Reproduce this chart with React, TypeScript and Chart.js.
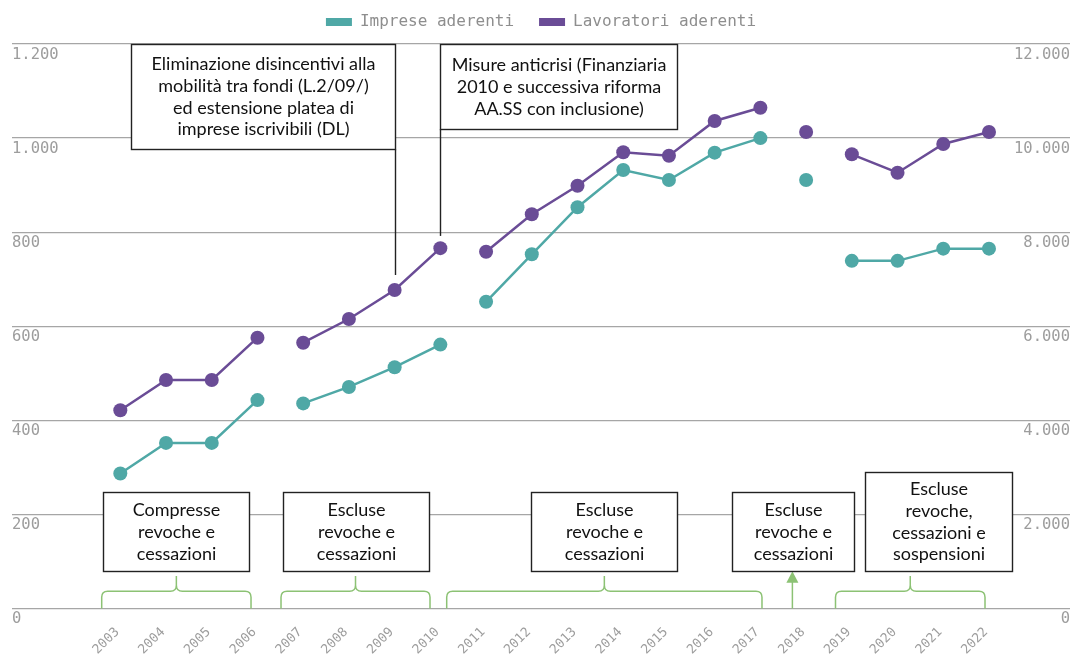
import { useEffect, useRef } from 'react';
import { Chart, registerables } from 'chart.js';

Chart.register(...registerables);

// ---- data ----
const years = [2003, 2004, 2005, 2006, 2007, 2008, 2009, 2010, 2011, 2012, 2013, 2014, 2015, 2016, 2017, 2018, 2019, 2020, 2021, 2022];
const impreseAderenti = [287, 352, 352, 443, 436, 471, 513, 561, 652, 753, 853, 932, 911, 969, 1000, 911, 739, 739, 765, 765];
const lavoratoriAderenti = [4213, 4857, 4857, 5757, 5650, 6154, 6771, 7660, 7585, 8380, 8988, 9698, 9626, 10363, 10646, 10130, 9655, 9264, 9875, 10130];
// line is interrupted after these years
const seriesBreaksAfter = [2006, 2010, 2017, 2018];
const leftTicks = [0, 200, 400, 600, 800, 1000, 1200];
const rightTicks = [0, 2000, 4000, 6000, 8000, 10000, 12000];

// ---- annotations (x in years, y in left-axis units) ----
const topNotes = [
  {
    x1: 2003.24, x2: 2009, yTop: 1200, yBottom: 976,
    lines: ['Eliminazione disincentivi alla', 'mobilità tra fondi (L.2/09/)', 'ed estensione platea di', 'imprese iscrivibili (DL)'],
    leaderX: 2009, leaderEnd: 709,
  },
  {
    x1: 2010, x2: 2015.17, yTop: 1200, yBottom: 1019,
    lines: ['Misure anticrisi (Finanziaria', '2010 e successiva riforma', 'AA.SS con inclusione)'],
    leaderX: 2010, leaderEnd: 792,
  },
];
const periodNotes = [
  { x1: 2002.615, x2: 2005.815, yTop: 248, lines: ['Compresse', 'revoche e', 'cessazioni'] },
  { x1: 2006.552, x2: 2009.752, yTop: 248, lines: ['Escluse', 'revoche e', 'cessazioni'] },
  { x1: 2011.976, x2: 2015.17, yTop: 248, lines: ['Escluse', 'revoche e', 'cessazioni'] },
  { x1: 2016.379, x2: 2019.037, yTop: 248, lines: ['Escluse', 'revoche e', 'cessazioni'] },
  { x1: 2019.288, x2: 2022.503, yTop: 291, lines: ['Escluse', 'revoche,', 'cessazioni e', 'sospensioni'] },
];
const periodBoxBottom = 80;
const braces = [
  [2002.593, 2005.859],
  [2006.515, 2009.774],
  [2010.139, 2017.035],
  [2018.643, 2021.913],
];
const arrowX = 2017.7;

const TEAL = '#4fa8a6';
const PURPLE = '#6a4c96';
const GREEN = '#8cc274';
const MONO = '"DejaVu Sans Mono", monospace';
const SANS = 'Lato, "Noto Sans", sans-serif';

const fmt = (v: number) => String(v).replace(/\B(?=(\d{3})+(?!\d))/g, '.');

const annotationPlugin = {
  id: 'notes',
  afterDatasetsDraw(chart: any) {
    const { ctx } = chart;
    const xs = chart.scales.x;
    const ys = chart.scales.y;
    const px = (v: number) => xs.getPixelForValue(v);
    const py = (v: number) => ys.getPixelForValue(v);
    const yBase = py(0);
    ctx.save();

    // braces
    ctx.strokeStyle = GREEN;
    ctx.lineWidth = 1.5;
    const yH = yBase - 17.2;
    const yTip = yBase - 32.5;
    const r = 6;
    for (const [a, b] of braces) {
      const xl = px(a);
      const xr = px(b);
      const xc = (xl + xr) / 2;
      ctx.beginPath();
      ctx.moveTo(xl, yBase);
      ctx.lineTo(xl, yH + r);
      ctx.quadraticCurveTo(xl, yH, xl + r, yH);
      ctx.lineTo(xc - r, yH);
      ctx.quadraticCurveTo(xc, yH, xc, yH - r);
      ctx.lineTo(xc, yTip);
      ctx.moveTo(xc, yH - r);
      ctx.quadraticCurveTo(xc, yH, xc + r, yH);
      ctx.lineTo(xr - r, yH);
      ctx.quadraticCurveTo(xr, yH, xr, yH + r);
      ctx.lineTo(xr, yBase);
      ctx.stroke();
    }
    // arrow
    const ax = px(arrowX);
    const boxBottomPx = py(periodBoxBottom);
    ctx.beginPath();
    ctx.moveTo(ax, yBase);
    ctx.lineTo(ax, boxBottomPx + 10);
    ctx.stroke();
    ctx.fillStyle = GREEN;
    ctx.beginPath();
    ctx.moveTo(ax, boxBottomPx + 0.5);
    ctx.lineTo(ax - 6, boxBottomPx + 12);
    ctx.lineTo(ax + 6, boxBottomPx + 12);
    ctx.closePath();
    ctx.fill();

    const lineH = 21.7;
    const drawBox = (x1: number, x2: number, t: number, b: number, lines: string[]) => {
      const l = Math.round(px(x1)) + 0.5;
      const rr = Math.round(px(x2)) + 0.5;
      const tt = Math.round(py(t)) + 0.5;
      const bb = Math.round(py(b)) + 0.5;
      ctx.fillStyle = '#ffffff';
      ctx.fillRect(l, tt, rr - l, bb - tt);
      ctx.strokeStyle = '#222222';
      ctx.lineWidth = 1.4;
      ctx.strokeRect(l, tt, rr - l, bb - tt);
      ctx.fillStyle = '#111111';
      ctx.font = '18px ' + SANS;
      ctx.textAlign = 'center';
      ctx.textBaseline = 'middle';
      const cx = (l + rr) / 2;
      const cy = (tt + bb) / 2;
      const start = cy - ((lines.length - 1) * lineH) / 2;
      lines.forEach((s, i) => ctx.fillText(s, cx, start + i * lineH));
    };

    for (const n of topNotes) {
      ctx.strokeStyle = '#222222';
      ctx.lineWidth = 1.4;
      const lx = Math.round(px(n.leaderX)) + 0.5;
      ctx.beginPath();
      ctx.moveTo(lx, py(n.yBottom));
      ctx.lineTo(lx, py(n.leaderEnd));
      ctx.stroke();
      drawBox(n.x1, n.x2, n.yTop, n.yBottom, n.lines);
    }
    for (const n of periodNotes) {
      drawBox(n.x1, n.x2, n.yTop, periodBoxBottom, n.lines);
    }
    ctx.restore();
  },
};

function makeDataset(label: string, values: number[], color: string, axis: string) {
  return {
    label,
    data: years.map((x, i) => ({ x, y: values[i] })),
    yAxisID: axis,
    borderColor: color,
    backgroundColor: color,
    borderWidth: 2.5,
    pointRadius: 7,
    pointHoverRadius: 7,
    pointBorderWidth: 0,
    pointBackgroundColor: color,
    tension: 0,
    clip: false as any,
    segment: {
      borderColor: (c: any) => (seriesBreaksAfter.includes(years[c.p0DataIndex]) ? 'rgba(0,0,0,0)' : undefined),
    },
  };
}

export default function App() {
  const ref = useRef<HTMLCanvasElement | null>(null);
  useEffect(() => {
    if (!ref.current) return;
    const chart = new Chart(ref.current, {
      type: 'line',
      data: {
        datasets: [
          makeDataset('Imprese aderenti', impreseAderenti, TEAL, 'y'),
          makeDataset('Lavoratori aderenti', lavoratoriAderenti, PURPLE, 'y1'),
        ],
      },
      options: {
        animation: false,
        responsive: true,
        maintainAspectRatio: false,
        layout: { autoPadding: false, padding: { top: -11, left: 12, right: 3, bottom: 0 } },
        plugins: {
          legend: {
            position: 'top',
            labels: {
              boxWidth: 26,
              boxHeight: 8,
              padding: 25,
              color: '#8e8e8e',
              font: { family: MONO, size: 16 },
              generateLabels: (c: any) =>
                (Chart.defaults.plugins.legend.labels as any).generateLabels(c).map((l: any) => ({ ...l, lineWidth: 0 })),
            },
          },
          tooltip: { enabled: false },
        },
        scales: {
          x: {
            type: 'linear',
            min: 2000.631,
            max: 2023.772,
            grid: { display: false },
            border: { display: false },
            afterBuildTicks: (s: any) => {
              s.ticks = years.map((v) => ({ value: v }));
            },
            afterFit: (s: any) => {
              s.height = 49.5;
              s.paddingLeft = 0;
              s.paddingRight = 0;
            },
            ticks: {
              autoSkip: false,
              minRotation: 45,
              maxRotation: 45,
              padding: 8,
              labelOffset: -3,
              color: '#9d9d9d',
              font: { family: MONO, size: 13 },
              callback: (v: any) => String(v),
            },
          },
          spacer: {
            type: 'linear',
            position: 'top',
            display: true,
            grid: { display: false },
            border: { display: false },
            ticks: { display: false },
            afterFit: (s: any) => {
              s.height = 4;
            },
          },
          y: {
            position: 'left',
            min: 0,
            max: 1200,
            afterBuildTicks: (s: any) => {
              s.ticks = leftTicks.map((v) => ({ value: v }));
            },
            afterFit: (s: any) => {
              s.width = 0;
            },
            grid: { color: '#a6a6a6', lineWidth: 1.3, drawTicks: false },
            border: { display: false },
            ticks: {
              mirror: true,
              padding: 0,
              labelOffset: 10.5,
              color: '#9d9d9d',
              font: { family: MONO, size: 15.5 },
              callback: (v: any) => fmt(v),
            },
          },
          y1: {
            position: 'right',
            min: 0,
            max: 12000,
            afterBuildTicks: (s: any) => {
              s.ticks = rightTicks.map((v) => ({ value: v }));
            },
            afterFit: (s: any) => {
              s.width = 0;
            },
            grid: { display: false, drawTicks: false },
            border: { display: false },
            ticks: {
              mirror: true,
              padding: 0,
              labelOffset: 10.5,
              color: '#9d9d9d',
              font: { family: MONO, size: 15.5 },
              callback: (v: any) => fmt(v),
            },
          },
        },
      } as any,
      plugins: [annotationPlugin],
    });
    return () => chart.destroy();
  }, []);
  return (
    <div style={{ position: 'fixed', left: 0, top: 0, width: '1073px', height: '658px' }}>
      <canvas ref={ref} />
    </div>
  );
}
